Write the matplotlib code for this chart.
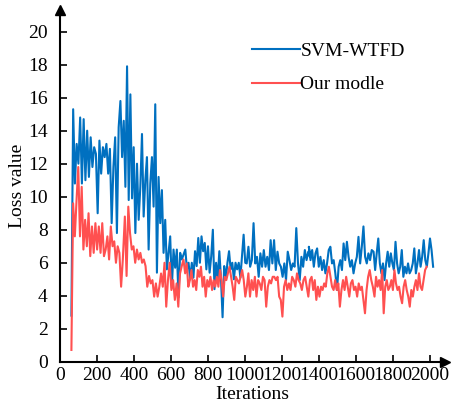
import numpy as np
import matplotlib
matplotlib.use('Agg')
import matplotlib.pyplot as plt

plt.rcParams['font.family'] = 'Liberation Serif'

# SVM-WTFD loss in six stretches of iterations
svm_spans = [(61, 326), (335, 658), (677, 1001), (1009, 1351),
             (1345, 1685), (1695, 2017)]
svm_loss_1 = [2.8, 15.3, 10.8, 13.2, 12.0, 14.8, 10.8, 14.7, 11.0, 14.0,
              11.2, 13.6, 11.8, 13.0, 12.6, 9.0, 13.4, 11.4, 13.0, 12.4,
              13.2, 11.4, 12.9, 8.4, 11.8, 13.6, 7.8, 14.2, 15.8]
svm_loss_2 = [12.4, 14.6, 10.6, 17.9, 9.8, 16.2, 9.9, 13.0, 7.8, 12.0, 8.6,
              10.6, 13.8, 8.8, 11.0, 12.4, 6.8, 10.8, 12.4, 9.4, 15.6, 5.4,
              11.2, 8.4, 10.4, 6.6, 8.6, 5.6, 6.6, 7.6, 4.5, 6.8, 5.7, 6.8,
              3.9, 6.6, 6.2]
svm_loss_3 = [6.8, 5.6, 6.0, 5.0, 6.0, 5.1, 6.7, 5.8, 7.5, 6.0, 7.6, 6.7,
              7.2, 5.6, 7.0, 5.4, 6.4, 8.0, 4.4, 6.0, 5.0, 6.7, 5.1, 2.7,
              5.8, 5.0, 6.0, 6.7, 5.6, 6.0, 5.0, 6.0, 5.6, 6.0, 5.1, 6.4,
              7.7, 6.0]
svm_loss_4 = [5.96, 6.97, 5.76, 6.16, 8.4, 5.96, 6.36, 5.15, 6.57, 5.76,
              6.77, 5.76, 6.36, 5.56, 7.37, 5.96, 7.37, 5.56, 6.67, 5.96,
              5.76, 5.15, 5.96, 4.95, 6.67, 6.16, 5.56, 5.96, 5.76, 8.1,
              5.96, 4.95, 6.36, 5.76, 6.77, 6.16, 6.67, 6.36]
svm_loss_5 = [6.97, 6.16, 6.77, 5.76, 6.57, 6.87, 5.76, 6.36, 5.56, 6.16,
              5.36, 5.96, 6.77, 6.97, 5.96, 6.16, 5.36, 4.35, 5.76, 6.16,
              5.56, 7.17, 6.16, 7.27, 6.36, 5.76, 6.16, 5.36, 5.96, 6.36,
              7.57, 5.96, 6.97, 8.2, 6.36, 5.96, 6.57, 6.16, 6.77]
svm_loss_6 = [6.67, 5.56, 6.57, 7.47, 5.96, 5.36, 5.96, 4.95, 5.96, 6.67,
              5.76, 6.57, 5.96, 5.56, 7.27, 5.96, 5.36, 5.76, 6.77, 5.15,
              5.76, 5.36, 5.96, 5.36, 5.56, 5.96, 6.87, 5.36, 5.96, 6.77,
              5.76, 6.36, 7.37, 6.16, 5.76, 6.57, 7.47, 6.77, 5.76]

# Our model loss
our_spans = [(61, 339), (350, 667), (676, 1010), (1018, 1351),
             (1360, 1691), (1700, 1982)]
our_loss_1 = [0.72, 9.6, 7.6, 9.8, 11.8, 7.6, 10.6, 6.8, 8.6, 7.0, 9.0,
              6.4, 8.2, 6.6, 8.4, 6.8, 8.2, 6.6, 8.4, 6.4, 6.8, 7.6, 6.2,
              8.2, 7.0, 7.3, 6.0, 7.0, 6.6, 4.55, 6.2]
our_loss_2 = [8.8, 5.2, 9.4, 7.8, 6.8, 7.0, 6.0, 6.8, 6.2, 6.6, 6.0, 6.2,
              5.8, 4.55, 5.2, 4.75, 4.95, 3.95, 4.75, 3.95, 4.55, 5.35,
              4.55, 6.0, 3.34, 4.95, 6.0, 4.35, 4.95, 3.75, 4.75, 3.34,
              5.35, 5.8, 6.2]
our_loss_3 = [5.36, 5.96, 4.55, 4.95, 5.56, 4.55, 4.95, 4.35, 5.56, 5.15,
              5.76, 4.55, 5.15, 3.95, 4.95, 4.55, 5.15, 4.35, 4.95, 4.55,
              5.15, 4.55, 5.56, 4.95, 3.95, 5.15, 4.95, 5.36, 5.76, 5.15,
              4.55, 3.75, 5.15, 4.95, 4.75, 5.15, 5.56, 4.95, 3.95, 4.55]
our_loss_4 = [5.36, 3.95, 4.95, 4.35, 5.15, 3.95, 4.95, 4.75, 4.35, 5.15,
              4.95, 3.34, 4.55, 4.95, 4.75, 5.15, 5.15, 4.95, 5.15, 3.95,
              3.75, 2.74, 4.55, 4.95, 4.35, 4.75, 4.35, 5.15, 4.95, 4.55,
              5.36, 4.95, 4.75, 4.35, 4.95, 5.15, 4.55, 3.95, 4.95]
our_loss_5 = [5.15, 4.35, 4.95, 3.75, 4.55, 3.95, 4.55, 4.35, 4.75, 4.55,
              5.36, 5.76, 5.15, 4.55, 4.35, 4.95, 4.35, 4.75, 3.34, 4.35,
              4.95, 4.35, 5.15, 4.55, 3.95, 4.75, 4.95, 4.35, 4.55, 3.95,
              4.75, 4.35, 4.55, 3.75, 2.94, 4.35, 5.15, 5.56, 4.95, 4.55]
our_loss_6 = [3.95, 5.15, 4.55, 4.95, 4.35, 5.56, 2.94, 4.55, 4.95, 4.35,
              4.55, 4.95, 4.35, 5.56, 4.75, 4.35, 4.55, 3.95, 3.55, 4.55,
              4.95, 4.35, 3.95, 3.34, 4.35, 3.95, 4.55, 4.95, 4.35, 5.36,
              4.55, 4.35, 4.95, 5.56, 5.76]

x_ticks = list(range(0, 2001, 200))
y_ticks = list(range(0, 21, 2))


def join(spans, parts):
    xs, ys = [], []
    for (a, b), vals in zip(spans, parts):
        xs.extend(np.linspace(a, b, len(vals)))
        ys.extend(vals)
    return xs, ys


svm_x, svm_y = join(svm_spans, [svm_loss_1, svm_loss_2, svm_loss_3,
                                svm_loss_4, svm_loss_5, svm_loss_6])
our_x, our_y = join(our_spans, [our_loss_1, our_loss_2, our_loss_3,
                                our_loss_4, our_loss_5, our_loss_6])

fig = plt.figure(figsize=(4.59, 4.07), dpi=100)
ax = fig.add_axes([0.131, 0.111, 0.838, 0.864])

ax.plot(svm_x, svm_y, color='#0070C0', lw=1.5, label='SVM-WTFD')
ax.plot(our_x, our_y, color='#FF5050', lw=1.5, label='Our modle')

ax.set_xlim(0, 2080)
ax.set_ylim(0, 21.3)
ax.set_xticks(x_ticks)
ax.set_yticks(y_ticks)
ax.tick_params(direction='in', length=5, width=1.2, labelsize=14)
ax.tick_params(axis='y', pad=9)
ax.tick_params(axis='x', pad=4)
for s in ['top', 'right']:
    ax.spines[s].set_visible(False)
for s in ['left', 'bottom']:
    ax.spines[s].set_linewidth(1.5)

# arrow heads on the axes
ax.plot(1, 0, '>k', ms=7, transform=ax.transAxes, clip_on=False)
ax.plot(0, 1, '^k', ms=7, transform=ax.transAxes, clip_on=False)

ax.set_xlabel('Iterations', fontsize=14, labelpad=1)
ax.set_ylabel('Loss value', fontsize=14, labelpad=1)

ax.legend(loc='upper left', bbox_to_anchor=(0.478, 0.93), frameon=False,
          fontsize=14, handlelength=2.5, handletextpad=0.0,
          labelspacing=0.8, borderaxespad=0)

fig.savefig('out.png', dpi=100)
